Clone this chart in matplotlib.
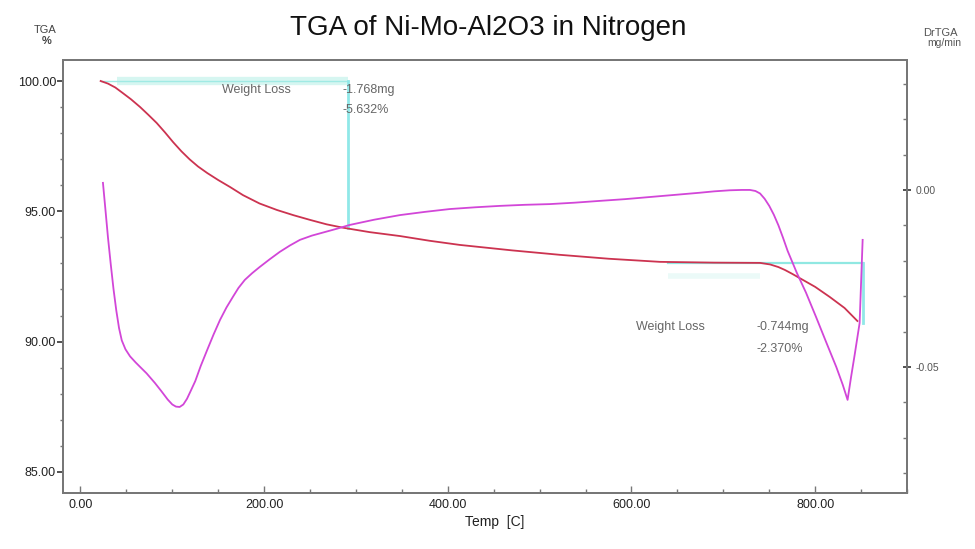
import matplotlib
matplotlib.use("Agg")
import matplotlib.pyplot as plt
from matplotlib.ticker import MultipleLocator, FormatStrFormatter

# ---------------- data ----------------
tga_temp = [22, 30, 38, 46, 55, 65, 74, 83, 92, 101, 110, 119, 128, 138, 150, 163, 177,
            195, 214, 232, 250, 268, 286, 315, 348, 380, 413, 470, 522, 575, 631, 690,
            740, 751, 760, 767, 775, 783, 800, 816, 832, 846]
tga_weight = [100.0, 99.9, 99.75, 99.54, 99.3, 99.0, 98.7, 98.39, 98.03, 97.65, 97.3,
              96.99, 96.72, 96.47, 96.2, 95.93, 95.62, 95.3, 95.05, 94.85, 94.67, 94.5,
              94.37, 94.2, 94.05, 93.87, 93.71, 93.5, 93.33, 93.18, 93.06, 93.03, 93.02,
              92.96, 92.86, 92.75, 92.6, 92.44, 92.1, 91.71, 91.29, 90.79]

dtga_temp = [24.5, 27, 30, 33, 36, 39, 42, 45, 49, 54, 60, 65, 72, 81, 88, 95, 100, 104,
             108, 112, 116, 120, 125, 131, 138, 145, 152, 159, 166, 172, 179, 187, 195,
             206, 217, 228, 239, 252, 266, 280, 293, 320, 348, 375, 402, 430, 457, 484,
             511, 538, 565, 593, 620, 647, 674, 690, 707, 720, 729, 735, 740, 745, 750,
             755, 760, 765, 770, 780, 790, 801, 812, 823, 830, 835.3, 839, 843, 848.4, 851.7]
dtga_value = [0.0020, -0.0050, -0.0135, -0.0210, -0.0280, -0.0340, -0.0390, -0.0425,
              -0.0450, -0.0470, -0.0487, -0.0500, -0.0518, -0.0545, -0.0568, -0.0592,
              -0.0606, -0.0612, -0.0613, -0.0606, -0.0590, -0.0568, -0.0540, -0.0497,
              -0.0452, -0.0408, -0.0367, -0.0332, -0.0302, -0.0277, -0.0254, -0.0235,
              -0.0218, -0.0196, -0.0175, -0.0157, -0.0141, -0.0129, -0.0119, -0.0109,
              -0.0099, -0.0084, -0.0071, -0.0062, -0.0054, -0.0049, -0.0045, -0.0042,
              -0.0040, -0.0036, -0.0031, -0.0026, -0.0020, -0.0014, -0.0008, -0.0004,
              -0.0001, 0.0, 0.0, -0.0003, -0.0010, -0.0025, -0.0045, -0.0070, -0.0100,
              -0.0135, -0.0172, -0.0234, -0.0290, -0.0359, -0.0430, -0.0500, -0.0550,
              -0.0593, -0.0530, -0.0466, -0.0376, -0.0141]

x_ticks = [0, 200, 400, 600, 800]
y_ticks = [85, 90, 95, 100]
y2_ticks = [-0.05, 0.0]

# weight-loss step annotations
step1 = dict(t0=22, t1=291, w0=100.0, w1=94.37, mg="-1.768mg", pct="-5.632%")
step2 = dict(t0=640, t1=852, w0=93.0, w1=90.72, mg="-0.744mg", pct="-2.370%")

# ---------------- figure ----------------
NARROW = ['Liberation Sans Narrow', 'Liberation Sans', 'DejaVu Sans']
SANS = ['Liberation Sans', 'DejaVu Sans']

fig = plt.figure(figsize=(9.75, 5.49), dpi=100)
ax = fig.add_axes([63/975, 1-493/549, (907-63)/975, (493-60)/549])
ax2 = ax.twinx()

axis_col = '#777777'
for a in (ax, ax2):
    for s in a.spines.values():
        s.set_color(axis_col)
        s.set_linewidth(1.4)

ax.set_xlim(-19, 900)
ax.set_ylim(84.19, 100.806)
ax2.set_ylim(-0.0856, 0.0367)

# annotation lines (behind curves)
ax.plot([40, step1['t1']], [step1['w0'], step1['w0']], color='#d6f6f1', lw=6,
        solid_capstyle='butt', zorder=1)
ax.plot([step1['t0'], step1['t1']], [step1['w0'], step1['w0']], color='#a0eae4', lw=1.0, zorder=1)
ax.plot([step1['t1'], step1['t1']], [step1['w0'], step1['w1']], color='#90e8e8', lw=2.0, zorder=1)

ax.plot([step2['t0'], step2['t1']], [step2['w0'], step2['w0']], color='#90e8e2', lw=1.6, zorder=1)
ax.plot([step2['t0'], 740], [step2['w0'] - 0.5, step2['w0'] - 0.5], color='#ebfaf8', lw=4,
        solid_capstyle='butt', zorder=1)
ax.plot([step2['t1'], step2['t1']], [step2['w0'], step2['w1']], color='#90e8e8', lw=2.0, zorder=1)

# curves
ax.plot(tga_temp, tga_weight, color='#cc3350', lw=1.3, zorder=3)
ax2.plot(dtga_temp, dtga_value, color='#d246d8', lw=1.3, zorder=3)

# ticks
ax.xaxis.set_major_locator(plt.FixedLocator(x_ticks))
ax.xaxis.set_minor_locator(MultipleLocator(50))
ax.xaxis.set_major_formatter(FormatStrFormatter('%.2f'))
ax.yaxis.set_major_locator(plt.FixedLocator(y_ticks))
ax.yaxis.set_minor_locator(MultipleLocator(1))
ax.yaxis.set_major_formatter(FormatStrFormatter('%.2f'))
ax2.yaxis.set_major_locator(plt.FixedLocator(y2_ticks))
ax2.yaxis.set_minor_locator(MultipleLocator(0.01))
ax2.yaxis.set_major_formatter(FormatStrFormatter('%.2f'))

ax.tick_params(axis='x', which='major', direction='in', length=5, width=1, color=axis_col,
               labelsize=9, labelcolor='#222222', pad=4, top=False)
ax.tick_params(axis='x', which='minor', direction='in', length=3, width=1, color=axis_col, top=False)
ax.tick_params(axis='y', which='major', direction='out', length=4, width=1.2, color='#333333',
               labelsize=9, labelcolor='#222222', pad=1, right=False)
ax.tick_params(axis='y', which='minor', direction='out', length=2.5, width=1, color=axis_col, right=False)
ax2.tick_params(axis='y', which='major', direction='inout', length=6, width=1.2, color='#333333',
                labelsize=7.5, labelcolor='#555555', pad=3)
ax2.tick_params(axis='y', which='minor', direction='in', length=3, width=1, color=axis_col)

for lab in ax.get_xticklabels() + ax.get_yticklabels() + ax2.get_yticklabels():
    lab.set_family(NARROW)

# texts
fig.text(488/975, 1-28/549, 'TGA of Ni-Mo-Al2O3 in Nitrogen', ha='center', va='center',
         fontsize=20, family=SANS, color='#111111')
fig.text(45/975, 1-30/549, 'TGA', ha='center', va='center', fontsize=8, family=NARROW, color='#444444')
fig.text(47/975, 1-41/549, '%', ha='center', va='center', fontsize=8, family=NARROW, color='#444444',
         fontweight='bold')
fig.text(940/975, 1-33/549, 'DrTGA', ha='center', va='center', fontsize=8, family=NARROW, color='#555555')
fig.text(944/975, 1-43/549, 'mg/min', ha='center', va='center', fontsize=7.5, family=NARROW, color='#555555')
fig.text(495/975, 1-522/549, 'Temp  [C]', ha='center', va='center', fontsize=10, family=NARROW,
         color='#222222')

tcol = '#666666'
ax.text(154, 99.65, 'Weight Loss', ha='left', va='center', fontsize=9, family=NARROW, color=tcol)
ax.text(285.7, 99.65, step1['mg'], ha='left', va='center', fontsize=9, family=NARROW, color=tcol)
ax.text(285.7, 98.89, step1['pct'], ha='left', va='center', fontsize=9, family=NARROW, color=tcol)
ax.text(604.6, 90.56, 'Weight Loss', ha='left', va='center', fontsize=9, family=NARROW, color=tcol)
ax.text(736.3, 90.56, step2['mg'], ha='left', va='center', fontsize=9, family=NARROW, color=tcol)
ax.text(736.3, 89.72, step2['pct'], ha='left', va='center', fontsize=9, family=NARROW, color=tcol)

fig.savefig('out.png', dpi=100, facecolor='white')
